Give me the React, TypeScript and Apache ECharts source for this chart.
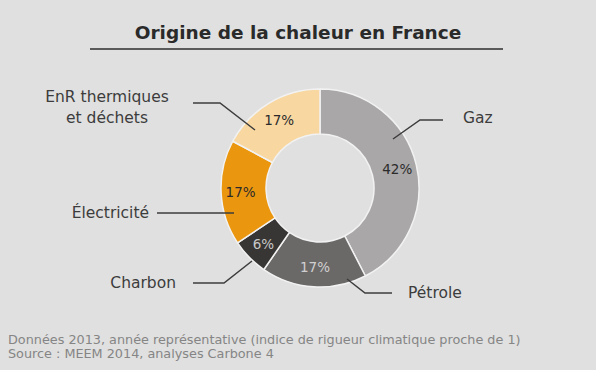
import React, { useEffect, useRef } from "react";
import * as echarts from "echarts";

const categories = ["Gaz", "Pétrole", "Charbon", "Électricité", "EnR thermiques\net déchets"];
const values = [42, 17, 6, 17, 17];
const sliceColors = ["#a9a7a7", "#6b6968", "#383634", "#eb960f", "#f8d7a1"];
const insideLabelColors = ["#2b2b2b", "#d0d0d0", "#c8c8c8", "#2b2b2b", "#2b2b2b"];

const titleText = "Origine de la chaleur en France";
const footText = "Données 2013, année représentative (indice de rigueur climatique proche de 1)\nSource : MEEM 2014, analyses Carbone 4";

// layout of the outside name labels and their leader lines
const labelLayouts = [
  { x: 463, y: 118, align: "left", line: [[393, 139], [420, 120], [443, 120]] },
  { x: 408, y: 293, align: "left", line: [[347, 279], [365, 293], [392, 293]] },
  { x: 176, y: 283, align: "right", line: [[252, 261], [224, 283], [193, 283]] },
  { x: 149, y: 213, align: "right", line: [[234, 213], [195, 213], [157, 213]] },
  { x: 107, y: 107, align: "center", line: [[255, 130], [220, 103], [193, 103]] },
];

const FONT = "DejaVu Sans";

export default function App() {
  const ref = useRef<HTMLDivElement>(null);
  useEffect(() => {
    document.body.style.margin = "0";
    const chart = echarts.init(ref.current!, undefined, { renderer: "svg" });
    const data = categories.map((name, i) => ({
      name,
      value: values[i],
      itemStyle: { color: sliceColors[i] },
      label: { color: insideLabelColors[i] },
    }));
    chart.setOption({
      animation: false,
      backgroundColor: "#e0e0e0",
      title: [
        {
          text: titleText,
          left: "center",
          top: 18,
          textStyle: { fontFamily: FONT, fontWeight: "bold", fontSize: 18.5, color: "#2a2a2a" },
        },
        {
          text: footText,
          left: 3,
          top: 327,
          textStyle: { fontFamily: FONT, fontWeight: "normal", fontSize: 12.8, color: "#858585", lineHeight: 14 },
        },
      ],
      graphic: [
        {
          type: "line",
          shape: { x1: 90, y1: 49, x2: 503, y2: 49 },
          style: { stroke: "#5a5a5a", lineWidth: 2 },
        },
      ],
      series: [
        {
          type: "pie",
          center: [320, 188],
          radius: [54, 99],
          startAngle: 90,
          z: 2,
          silent: true,
          avoidLabelOverlap: false,
          itemStyle: { borderColor: "#f2f2f2", borderWidth: 1.5 },
          label: {
            show: true,
            position: "inside",
            formatter: "{c}%",
            fontFamily: FONT,
            fontSize: 13.5,
          },
          labelLine: { show: false },
          emphasis: { disabled: true },
          data,
        },
        {
          type: "pie",
          center: [320, 188],
          radius: [54, 99],
          startAngle: 90,
          z: 3,
          silent: true,
          avoidLabelOverlap: false,
          itemStyle: { color: "rgba(0,0,0,0)", borderWidth: 0 },
          label: {
            show: true,
            position: "outside",
            formatter: "{b}",
            fontFamily: FONT,
            fontSize: 15.5,
            color: "#3c3c3c",
            lineHeight: 21,
          },
          labelLine: { show: true, lineStyle: { color: "#3c3c3c", width: 1.5 } },
          labelLayout: (p: any) => {
            const L = labelLayouts[p.dataIndex];
            return { x: L.x, y: L.y, align: L.align, verticalAlign: "middle", labelLinePoints: L.line };
          },
          emphasis: { disabled: true },
          data: categories.map((name, i) => ({ name, value: values[i] })),
        },
      ],
    });
    return () => chart.dispose();
  }, []);
  return <div ref={ref} style={{ width: 596, height: 370 }} />;
}
